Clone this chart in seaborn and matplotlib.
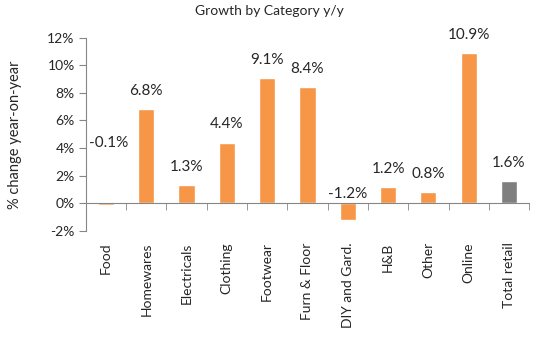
import matplotlib
matplotlib.use("Agg")
import matplotlib.pyplot as plt
import matplotlib.ticker as mticker
import seaborn as sns
import pandas as pd

categories = ["Food", "Homewares", "Electricals", "Clothing", "Footwear",
              "Furn & Floor", "DIY and Gard.", "H&B", "Other", "Online",
              "Total retail"]
growth = [-0.1, 6.8, 1.3, 4.4, 9.1, 8.4, -1.2, 1.2, 0.8, 10.9, 1.6]
colors = ["#F79646"] * 10 + ["#7F7F7F"]

sns.set_style("white")
plt.rcParams["font.family"] = ["Lato", "DejaVu Sans"]

df = pd.DataFrame({"cat": categories, "val": growth})

fig = plt.figure(figsize=(5.5, 3.51), dpi=100)
ax = fig.add_axes([0.156, 0.342, 0.806, 0.551])

sns.barplot(data=df, x="cat", y="val", hue="cat", palette=colors,
            width=0.4, legend=False, ax=ax, saturation=1)

ax.set_ylim(-2, 12)
ax.set_xlim(-0.5, len(categories) - 0.5)
ax.yaxis.set_major_locator(mticker.MultipleLocator(2))
ax.yaxis.set_major_formatter(mticker.FuncFormatter(lambda v, p: f"{v:.0f}%"))

spine_c = "#868686"
for s in ["top", "right"]:
    ax.spines[s].set_visible(False)
ax.spines["left"].set_color(spine_c)
ax.spines["bottom"].set_color(spine_c)
ax.spines["bottom"].set_position(("data", 0))

ax.tick_params(axis="y", direction="out", length=5, color=spine_c,
               labelsize=10, left=True, pad=3)
ax.set_xticks(range(len(categories)))
ax.set_xticklabels(categories, rotation=90, fontsize=10)
ax.tick_params(axis="x", which="major", length=0, pad=28)
ax.set_xticks([i + 0.5 for i in range(len(categories))], minor=True)
ax.tick_params(axis="x", which="minor", direction="out", length=5,
               color=spine_c, bottom=True)
for lab in ax.get_xticklabels():
    lab.set_verticalalignment("top")

ax.set_xlabel("")
ax.set_ylabel("")

for i, v in enumerate(growth):
    if i == 0:
        # Food label sits free above its tiny bar, just right of the axis
        ax.annotate(f"{v:.1f}%", (i - 0.5, 4.4), xytext=(2, 0),
                    textcoords="offset points", ha="left", va="center", fontsize=11)
    elif v >= 0:
        ax.annotate(f"{v:.1f}%", (i, v), xytext=(0, 8), textcoords="offset points",
                    ha="center", va="bottom", fontsize=11)
    else:
        ax.annotate(f"{v:.1f}%", (i, 0), xytext=(0, 2), textcoords="offset points",
                    ha="center", va="bottom", fontsize=11)

fig.text(0.49, 0.97, "Growth by Category y/y", ha="center", va="center", fontsize=10)
fig.text(0.028, 0.615, "% change year-on-year", rotation=90, ha="center",
         va="center", fontsize=10.5)

fig.savefig("out.png", dpi=100)
